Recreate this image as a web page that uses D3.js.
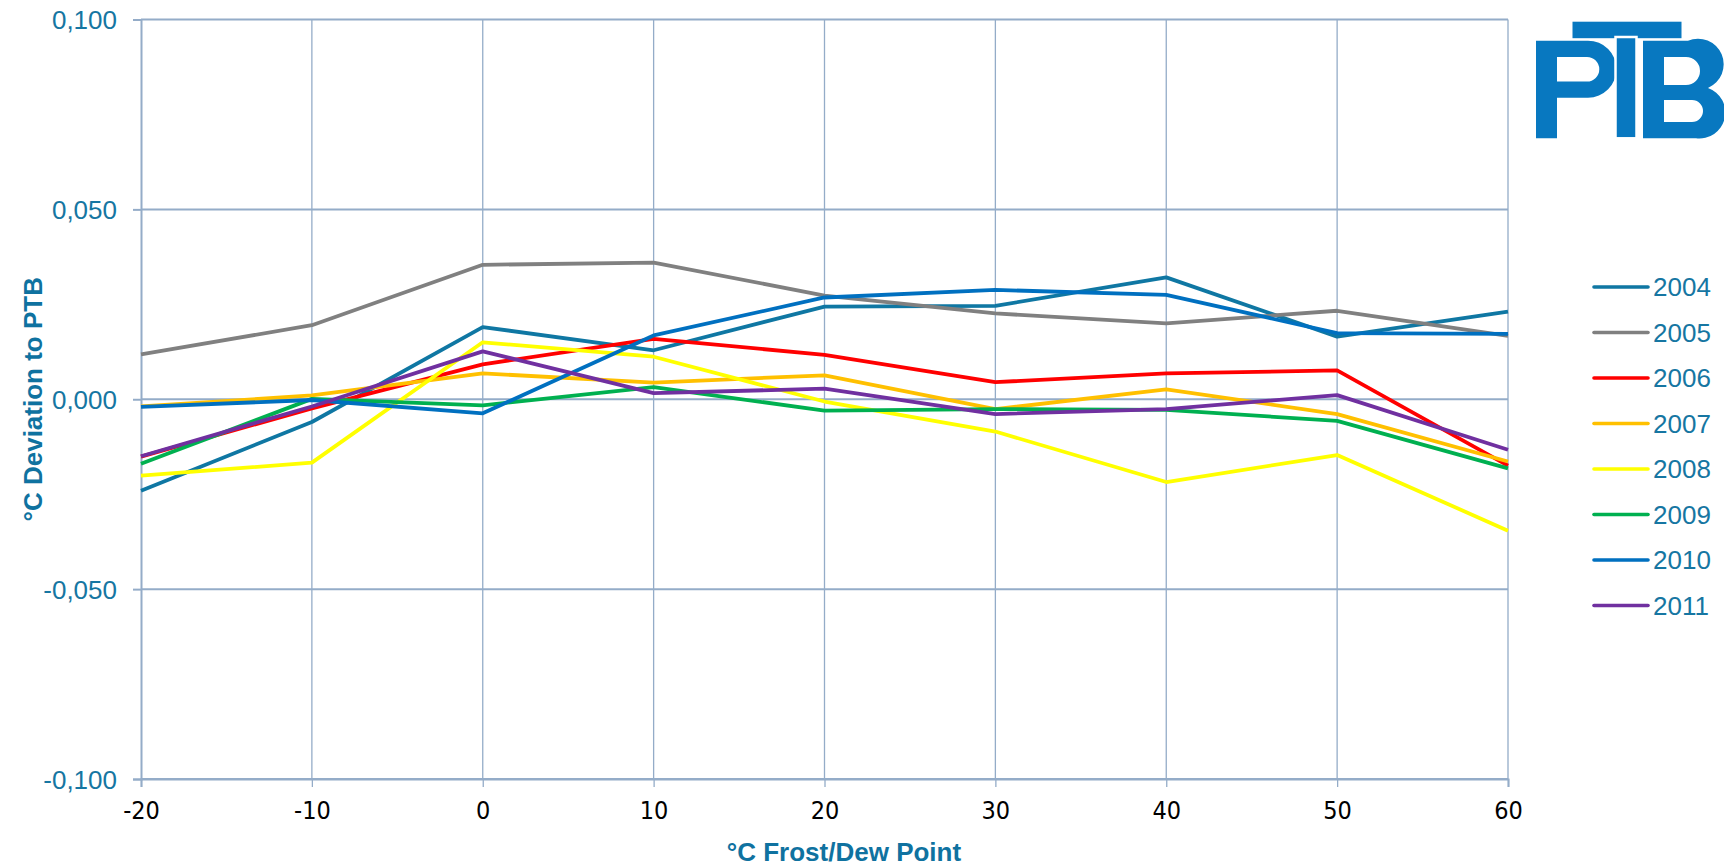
<!DOCTYPE html>
<html>
<head>
<meta charset="utf-8">
<script src="https://cdn.jsdelivr.net/npm/d3@7"></script>
<style>
    html, body { margin: 0; padding: 0; background: #fff; }
    svg { display: block; }
</style>
</head>
<body>
<div id="chart"></div>
<script>
// Frost/dew point set points (x axis).
var dewPoints = [-20, -10, 0, 10, 20, 30, 40, 50, 60];

// Deviation to PTB per year, degC.
var dev2004 = [-0.0241, -0.0060, 0.0190, 0.0129, 0.0244, 0.0246, 0.0321, 0.0165, 0.0231];
var dev2005 = [0.0118, 0.0195, 0.0354, 0.0360, 0.0273, 0.0226, 0.0200, 0.0233, 0.0167];
var dev2006 = [-0.0151, -0.0024, 0.0092, 0.0159, 0.0117, 0.0045, 0.0068, 0.0076, -0.0175];
var dev2007 = [-0.0019, 0.0010, 0.0068, 0.0044, 0.0063, -0.0026, 0.0026, -0.0039, -0.0164];
var dev2008 = [-0.0201, -0.0167, 0.0150, 0.0112, -0.0006, -0.0085, -0.0218, -0.0147, -0.0346];
var dev2009 = [-0.0170, 0.0001, -0.0016, 0.0032, -0.0030, -0.0026, -0.0028, -0.0057, -0.0182];
var dev2010 = [-0.0020, -0.0002, -0.0037, 0.0168, 0.0268, 0.0288, 0.0275, 0.0174, 0.0172];
var dev2011 = [-0.0150, -0.0019, 0.0126, 0.0016, 0.0028, -0.0039, -0.0026, 0.0011, -0.0133];

var years = ['2004', '2005', '2006', '2007', '2008', '2009', '2010', '2011'];
var yTicks = [-0.1, -0.05, 0, 0.05, 0.1];
var xTicks = [-20, -10, 0, 10, 20, 30, 40, 50, 60];

var yearColors = ['#0f77a3', '#808080', '#ff0000', '#ffc000', '#ffff00', '#00b050', '#0070c0', '#7030a0'];

var series = [dev2004, dev2005, dev2006, dev2007, dev2008, dev2009, dev2010, dev2011].map(function (vals, i) {
    return { name: years[i], color: yearColors[i], values: vals };
});

var W = 1724, H = 868;
var plot = { left: 141, right: 1508, top: 19.5, bottom: 779 };
var gridColor = '#94acc8';
var labelColor = '#1676a2';
var titleColor = '#0f72a0';

var svg = d3.select('#chart').append('svg')
    .attr('width', W)
    .attr('height', H);

var x = d3.scaleLinear().domain([-20, 60]).range([plot.left, plot.right]);
var y = d3.scaleLinear().domain([-0.1, 0.1]).range([plot.bottom, plot.top]);

// Comma decimal, plain hyphen minus.
var locale = d3.formatLocale({ decimal: ',', thousands: '.', grouping: [3], currency: ['', ''], minus: '-' });
var fmtY = locale.format('.3f');
var fmtX = locale.format('d');

// Vertical grid
svg.append('g')
    .selectAll('line')
    .data(xTicks.slice(1))
    .enter().append('line')
    .attr('x1', function (d) { return x(d); })
    .attr('x2', function (d) { return x(d); })
    .attr('y1', plot.top)
    .attr('y2', plot.bottom)
    .attr('stroke', gridColor)
    .attr('stroke-width', 1.3);

// Horizontal grid
svg.append('g')
    .selectAll('line')
    .data(yTicks)
    .enter().append('line')
    .attr('x1', plot.left)
    .attr('x2', plot.right)
    .attr('y1', function (d) { return y(d); })
    .attr('y2', function (d) { return y(d); })
    .attr('stroke', gridColor)
    .attr('stroke-width', 2);

// Y axis
var yAxis = d3.axisLeft(y)
    .tickValues(yTicks)
    .tickSize(8)
    .tickPadding(16)
    .tickFormat(fmtY);
var gy = svg.append('g')
    .attr('transform', 'translate(' + plot.left + ',0)')
    .call(yAxis);
gy.select('.domain').attr('stroke', gridColor).attr('stroke-width', 2);
gy.selectAll('.tick line').attr('stroke', gridColor).attr('stroke-width', 2);
gy.selectAll('.tick text')
    .attr('fill', labelColor)
    .attr('dy', '0.36em')
    .style('font', '26px "Liberation Sans", Arial, sans-serif');

// X axis
var xAxis = d3.axisBottom(x)
    .tickValues(xTicks)
    .tickSize(8)
    .tickPadding(14)
    .tickFormat(fmtX);
var gx = svg.append('g')
    .attr('transform', 'translate(0,' + plot.bottom + ')')
    .call(xAxis);
gx.select('.domain').attr('stroke', gridColor).attr('stroke-width', 2);
gx.selectAll('.tick line').attr('stroke', gridColor).attr('stroke-width', 1.3);
gx.selectAll('.tick text')
    .attr('fill', '#000')
    .attr('dy', '0.72em')
    .style('font', '25px "Liberation Sans Narrow", "DejaVu Sans Condensed", sans-serif');

// Axis titles
svg.append('text')
    .attr('x', 844)
    .attr('y', 861)
    .attr('text-anchor', 'middle')
    .attr('fill', titleColor)
    .style('font', 'bold 26px "Liberation Sans", Arial, sans-serif')
    .text('°C Frost/Dew Point');

svg.append('text')
    .attr('transform', 'translate(42,' + ((plot.top + plot.bottom) / 2) + ') rotate(-90)')
    .attr('text-anchor', 'middle')
    .attr('fill', titleColor)
    .style('font', 'bold 26px "Liberation Sans", Arial, sans-serif')
    .text('°C Deviation to PTB');

// Series lines
var line = d3.line()
    .x(function (d, i) { return x(dewPoints[i]); })
    .y(function (d) { return y(d); });

svg.append('g')
    .selectAll('path')
    .data(series)
    .enter().append('path')
    .attr('d', function (s) { return line(s.values); })
    .attr('fill', 'none')
    .attr('stroke', function (s) { return s.color; })
    .attr('stroke-width', 3.8)
    .attr('stroke-linejoin', 'round');

// Legend
var legend = svg.append('g')
    .attr('transform', 'translate(1594,287)');
var item = legend.selectAll('g')
    .data(series)
    .enter().append('g')
    .attr('transform', function (d, i) { return 'translate(0,' + (i * 45.5) + ')'; });
item.append('line')
    .attr('x1', 0)
    .attr('x2', 54)
    .attr('stroke', function (d) { return d.color; })
    .attr('stroke-width', 3.6)
    .attr('stroke-linecap', 'round');
item.append('text')
    .attr('x', 59)
    .attr('y', 9)
    .attr('fill', labelColor)
    .style('font', '26px "Liberation Sans", Arial, sans-serif')
    .text(function (d) { return d.name; });

// PTB logo (drawn as shapes)
var logo = svg.append('g').attr('fill', '#0878c0');
logo.append('rect').attr('x', 1572.5).attr('y', 21.7).attr('width', 109).attr('height', 16.5);
logo.append('path')
    .attr('fill-rule', 'evenodd')
    .attr('d', 'M1536,40.7 H1588 A28.5,28.5 0 0 1 1588,97.7 H1557 V138.3 H1536 Z' +
               'M1557,57 H1587 A12.3,12.3 0 0 1 1587,81.6 H1557 Z');
logo.append('rect').attr('x', 1615.5).attr('y', 37).attr('width', 21).attr('height', 101.3)
    .attr('stroke', '#fff').attr('stroke-width', 2.5);
logo.append('path')
    .attr('fill-rule', 'evenodd')
    .attr('d', 'M1643,40.7 H1688 A24,24 0 0 1 1708,88 A26,26 0 0 1 1696,138.3 H1643 Z' +
               'M1664,57 H1686 A14,14 0 0 1 1686,85 H1664 Z' +
               'M1664,100 H1692 A11,11 0 0 1 1692,122 H1664 Z');
</script>
</body>
</html>
